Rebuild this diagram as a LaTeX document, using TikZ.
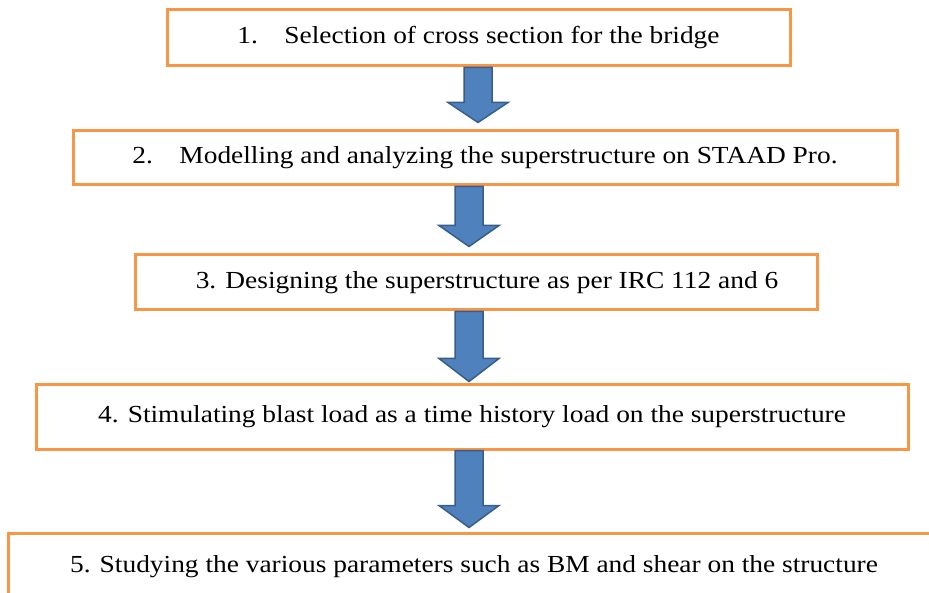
\documentclass[tikz,border=0pt]{standalone}
\usepackage{fontspec}
\setmainfont{Liberation Serif}
\usepackage{tikz}
\usetikzlibrary{calc}
\definecolor{boxorange}{HTML}{F79646}
\definecolor{arrowblue}{HTML}{4F81BD}
\definecolor{arrowline}{HTML}{385D8A}
\def\steptext#1{\scalebox{1.118}[1]{#1}}
\def\blockarrow(#1)(#2)(#3:#4){\draw[flowarrow] ($(#1)+(-14,0)$) -- ($(#2)+(-14,-#4)$) -- ($(#2)+(-30,-#4)$) -- ($(#2)+(0,#3)$) -- ($(#2)+(30,-#4)$) -- ($(#2)+(14,-#4)$) -- ($(#1)+(14,0)$) -- cycle;}

\begin{document}
\begin{tikzpicture}[x=1pt, y=-1pt,
	stepbox/.style={draw=boxorange, line width=3pt, fill=white, inner sep=0pt,
		font=\fontsize{24.5}{29}\selectfont},
	flowarrow/.style={fill=arrowblue, draw=arrowline, line width=1.5pt, line join=miter}]
			%%%%% START %%%%%
			
			\clip (0, 0) rectangle (929, 593);
			
			\node[stepbox, minimum width=623, minimum height=56] (s1) at (478.5, 38)
				{\steptext{1.\hspace{23.7pt}Selection of cross section for the bridge}};
			\node[stepbox, minimum width=824, minimum height=54] (s2) at (485, 158)
				{\steptext{2.\hspace{23.7pt}Modelling and analyzing the superstructure on STAAD Pro.}};
			\node[stepbox, minimum width=682, minimum height=55] (s3) at (476, 282.5)
				{\steptext{\hspace*{19.7pt}3. Designing the superstructure as per IRC 112 and 6}};
			\node[stepbox, minimum width=872, minimum height=64] (s4) at (472, 417)
				{\steptext{4. Stimulating blast load as a time history load on the superstructure}};
			\node[stepbox, minimum width=932, minimum height=67] (s5) at (474, 566.5)
				{\steptext{5. Studying the various parameters such as BM and shear on the structure}};
			
			\coordinate (x1) at (478, 0);
			\coordinate (x2) at (469, 0);
			
			\blockarrow(s1.south -| x1)(s2.north -| x1)(-7:27)
			\blockarrow(s2.south -| x2)(s3.north -| x2)(-7:28)
			\blockarrow(s3.south -| x2)(s4.north -| x2)(-2:25)
			\blockarrow(s4.south -| x2)(s5.north -| x2)(-4:26)
			
			%%%%% END %%%%%
\end{tikzpicture}
\end{document}
